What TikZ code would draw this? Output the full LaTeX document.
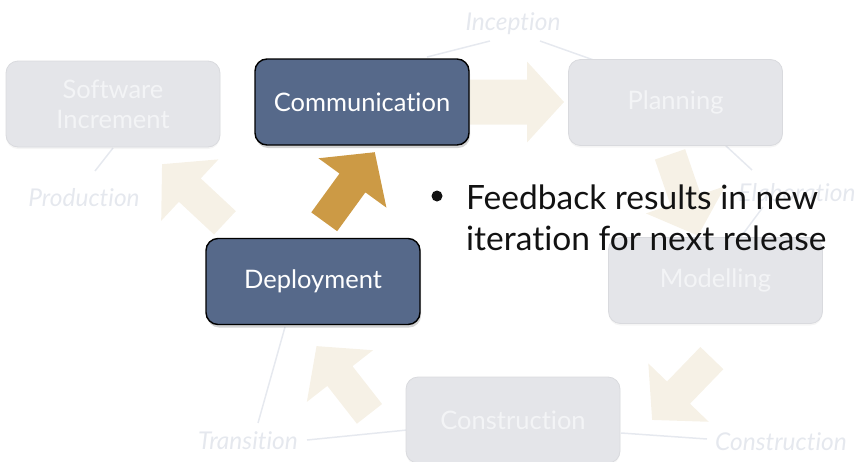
\documentclass[tikz,border=0pt]{standalone}
\usepackage{fontspec}
\setmainfont{Lato}[Ligatures=NoCommon]
\usetikzlibrary{shadows}
\definecolor{darkbox}{HTML}{56698A}
\definecolor{lightbox}{HTML}{E4E5E9}
\definecolor{lightborder}{HTML}{D9DADE}
\definecolor{lighttext}{HTML}{F3F4F6}
\definecolor{ghostarrow}{HTML}{F6F1E6}
\definecolor{goldarrow}{HTML}{CC9A45}
\definecolor{ghostlabel}{HTML}{E5E8EE}
\definecolor{ghostline}{HTML}{E6E9EF}
\begin{document}
\begin{tikzpicture}[x=1pt,y=-1pt,
  ghostbox/.style={draw=lightborder, line width=0.8pt, fill=lightbox, rounded corners=12pt,
    minimum width=214pt, minimum height=86pt, text=lighttext, align=center,
    font=\fontsize{25.5}{30}\selectfont, drop shadow={shadow xshift=0pt, shadow yshift=-2pt, opacity=0.08}},
  activebox/.style={draw=black, line width=1.4pt, fill=darkbox, rounded corners=12pt,
    minimum width=214pt, minimum height=86pt, text=white, align=center,
    font=\fontsize{25.5}{30}\selectfont, drop shadow={shadow xshift=1pt, shadow yshift=-3pt, opacity=0.35}},
  slimarr/.pic={\fill[#1] (-43,-16) -- (5,-16) -- (5,-42) -- (43,0) -- (5,42) -- (5,16) -- (-43,16) -- cycle;},
  widearr/.pic={\fill[#1] (-47,-22.5) -- (10,-22.5) -- (10,-40.5) -- (47,0) -- (10,40.5) -- (10,22.5) -- (-47,22.5) -- cycle;},
  phase/.style={text=ghostlabel, font=\fontsize{24.5}{28}\selectfont\itshape, inner sep=0pt},
  phaseline/.style={draw=ghostline, line width=1.5pt},
  bullettext/.style={anchor=base west, inner sep=0pt, text=black!93, font=\fontsize{33.5}{41}\selectfont}
]
\useasboundingbox (0,0) rectangle (859,461);
\clip (0,0) rectangle (859,461);

% phase labels and their lines
\node[phase] (inc) at (513,24) {Inception};
\node[phase] (elab) at (797,193) {Elaboration};
\node[phase] (prod) at (84,198) {Production};
\node[phase] (trans) at (248,441) {Transition};
\node[phase] (cons) at (781,442) {Construction};

\coordinate (i1) at (427,57); \coordinate (i2) at (490,41);
\coordinate (i3) at (540,41); \coordinate (i4) at (602,63);
\coordinate (e1) at (725,145); \coordinate (e2) at (752,170);
\coordinate (e3) at (763,207); \coordinate (e4) at (740,238);
\coordinate (p1) at (95,171); \coordinate (p2) at (113,148);
\coordinate (t1) at (258,423); \coordinate (t2) at (285,327);
\coordinate (t3) at (307,440); \coordinate (t4) at (407,430);
\coordinate (c1) at (621,433); \coordinate (c2) at (707,439);
\draw[phaseline] (i1) -- (i2);
\draw[phaseline] (i3) -- (i4);
\draw[phaseline] (e1) -- (e2);
\draw[phaseline] (e3) -- (e4);
\draw[phaseline] (p1) -- (p2);
\draw[phaseline] (t1) -- (t2);
\draw[phaseline] (t3) -- (t4);
\draw[phaseline] (c1) -- (c2);

% block arrows
\pic[rotate=0] (a1) at (517,102) {widearr=ghostarrow};
\pic[rotate=-71] (a2) at (684,195) {slimarr=ghostarrow};
\pic[rotate=226] (a3) at (682,389) {slimarr=ghostarrow};
\pic[rotate=128] (a4) at (343,380) {slimarr=ghostarrow};
\pic[rotate=54] (a5) at (349.5,187) {slimarr=goldarrow};
\pic[rotate=137] (a6) at (193.5,193.5) {slimarr=ghostarrow};

% boxes
\node[ghostbox] (softinc) at (113,104) {Software\\Increment};
\node[activebox] (comm) at (362,102) {Communication};
\node[ghostbox] (plan) at (675.5,102.5) {Planning};
\node[ghostbox] (model) at (715.5,280.5) {Modelling};
\node[ghostbox] (constr) at (513,420) {Construction};
\node[activebox] (deploy) at (313,281.5) {Deployment};

% bullet text
\node[circle, fill=black!93, inner sep=0pt, minimum size=11pt] (dot) at (437,196) {};
\node[bullettext] (line1) at (466,209) {Feedback results in new};
\node[bullettext] (line2) at (466,250) {iteration for next release};
\end{tikzpicture}
\end{document}
